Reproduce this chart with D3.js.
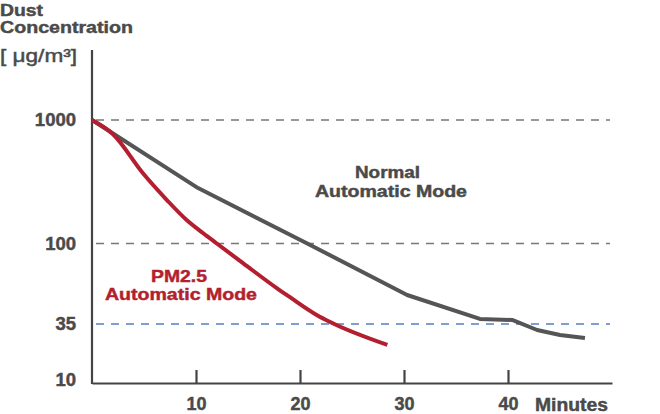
<!DOCTYPE html>
<html>
<head>
<meta charset="utf-8">
<script src="https://cdn.jsdelivr.net/npm/d3@7"></script>
<style>
  html, body { margin: 0; padding: 0; background: #fff; }
  svg { display: block; font-family: "Liberation Sans", Arial, Helvetica, sans-serif; }
</style>
</head>
<body>
<svg id="chart" width="660" height="414"></svg>
<script>
// ---- data ----
const normalTimes  = [0, 10.2, 20.7, 30.3, 37.3, 40.4, 42.8, 45.0, 47.4];
const normalValues = [1000, 281, 100, 51.1, 37.4, 36.9, 30.6, 27.4, 25.6];
const pmTimes  = [0, 2.0, 4.9, 7.2, 9.1, 10.7, 12.0, 14.55, 17.8, 19.0, 21.6, 22.9, 28.4];
const pmValues = [1000, 770, 370, 225, 155, 121, 100, 77.2, 55.7, 49.8, 39.4, 35.9, 21.9];
const yTickValues = [10, 35, 100, 1000];
const xTickValues = [10, 20, 30, 40];
const grayGuides = [1000, 100];
const blueGuides = [35];

// ---- layout / style ----
const textColor = "#4a4a4a";
const axisColor = "#444";
const grayLine = "#555555";
const redLine = "#b31f2e";
const blueDash = "#5a7dc1";
const grayDash = "#777777";

const svg = d3.select("#chart");

const x = d3.scaleLinear().domain([0, 50]).range([92, 612]);
// piecewise log scale (the reference stretches the lower decades)
const y = d3.scaleLog().domain([10, 35, 100, 1000]).range([380, 324, 243.5, 120]);

const nData = normalTimes.map((t, i) => ({t, v: normalValues[i]}));
const pData = pmTimes.map((t, i) => ({t, v: pmValues[i]}));

// guides
svg.selectAll("line.gg").data(grayGuides).join("line")
  .attr("x1", 96).attr("x2", 610)
  .attr("y1", d => y(d)).attr("y2", d => y(d))
  .attr("stroke", grayDash).attr("stroke-width", 1.6)
  .attr("stroke-dasharray", "8,7");
svg.selectAll("line.bg").data(blueGuides).join("line")
  .attr("x1", 96).attr("x2", 610)
  .attr("y1", d => y(d)).attr("y2", d => y(d))
  .attr("stroke", blueDash).attr("stroke-width", 1.6)
  .attr("stroke-dasharray", "8,7");

function heavy(sel, color) {
  sel.attr("stroke", color).attr("stroke-width", 0.45).attr("paint-order", "stroke");
}

// y axis (labels only) + line
const yAxis = d3.axisLeft(y).tickValues(yTickValues).tickSize(0).tickPadding(16).tickFormat(d => d);
const gy = svg.append("g").attr("transform", "translate(92,0)").call(yAxis);
gy.select(".domain").remove();
gy.selectAll("text").attr("fill", textColor).attr("font-size", 18.5).attr("font-weight", "bold")
  .attr("font-family", "'Liberation Sans', Arial, sans-serif").call(heavy, textColor);
svg.append("line").attr("x1", 92).attr("x2", 92).attr("y1", 50).attr("y2", 384)
  .attr("stroke", axisColor).attr("stroke-width", 2.2);

// x axis
const xAxis = d3.axisBottom(x).tickValues(xTickValues).tickSizeInner(-13).tickSizeOuter(0).tickPadding(14);
const gx = svg.append("g").attr("transform", "translate(0,383)").call(xAxis);
gx.select(".domain").attr("stroke", axisColor).attr("stroke-width", 2.2);
gx.selectAll(".tick line").attr("stroke", axisColor).attr("stroke-width", 2.2);
gx.selectAll("text").attr("fill", textColor).attr("font-size", 18).attr("font-weight", "bold")
  .attr("font-family", "'Liberation Sans', Arial, sans-serif").call(heavy, textColor);

// lines
const line = d3.line().x(d => x(d.t)).y(d => y(d.v));
svg.append("path").datum(nData)
  .attr("d", line.curve(d3.curveLinear))
  .attr("fill", "none").attr("stroke", grayLine).attr("stroke-width", 4)
  .attr("stroke-linejoin", "round");
svg.append("path").datum(pData)
  .attr("d", line.curve(d3.curveMonotoneX))
  .attr("fill", "none").attr("stroke", redLine).attr("stroke-width", 4)
  .attr("stroke-linejoin", "round");

// texts
function label(txt, xp, yp, opts) {
  const c = opts.color || textColor;
  const t = svg.append("text").attr("x", xp).attr("y", yp).text(txt)
    .attr("fill", c)
    .attr("font-size", opts.size || 17)
    .attr("font-weight", opts.weight || "bold")
    .attr("text-anchor", opts.anchor || "start");
  if (opts.len) t.attr("textLength", opts.len).attr("lengthAdjust", "spacingAndGlyphs");
  t.call(heavy, c);
  return t;
}
label("Dust", 0, 15.5, {size: 17, len: 43});
label("Concentration", 0, 33, {size: 17, len: 133});
label("[ μg/m³]", 0, 62, {size: 18, weight: "normal", len: 77});
label("Minutes", 535, 410.5, {size: 18, len: 73});
label("Normal", 355, 178, {size: 16.5, len: 65});
label("Automatic Mode", 315, 196.5, {size: 16.5, len: 152});
label("PM2.5", 151, 281.5, {size: 16.5, len: 56, color: redLine});
label("Automatic Mode", 105, 300, {size: 16.5, len: 152, color: redLine});
</script>
</body>
</html>
